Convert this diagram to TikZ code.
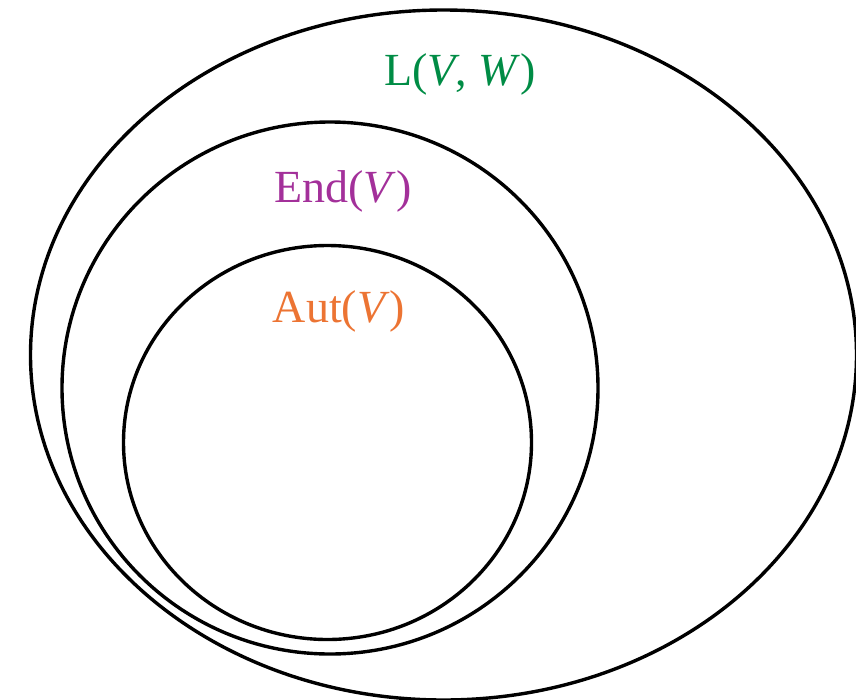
\documentclass[tikz,border=0pt]{standalone}
\usepackage{fontspec}
\setmainfont{Liberation Serif}
\definecolor{lgreen}{HTML}{008C45}
\definecolor{epurple}{HTML}{A3309A}
\definecolor{aorange}{HTML}{EC7433}
\begin{document}
\begin{tikzpicture}[x=1pt,y=-1pt,
  ring/.style={draw=black,line width=3.4pt},
  lbl/.style={font=\fontsize{46}{52}\selectfont,inner sep=0pt,anchor=base}]
\useasboundingbox (0,0) rectangle (856,699);
\draw[ring] (443.5,355) ellipse [x radius=413,y radius=345];
\draw[ring] (330,388) ellipse [x radius=268,y radius=266];
\draw[ring] (327.5,442.5) ellipse [x radius=204,y radius=197];
\node[lbl,text=lgreen] (lvw) at (460,85) {L(\textit{V}, \textit{W})};
\node[lbl,text=epurple] (endv) at (343,202) {End(\textit{V})};
\node[lbl,text=aorange] (autv) at (339,322) {Aut(\textit{V})};
\end{tikzpicture}
\end{document}
